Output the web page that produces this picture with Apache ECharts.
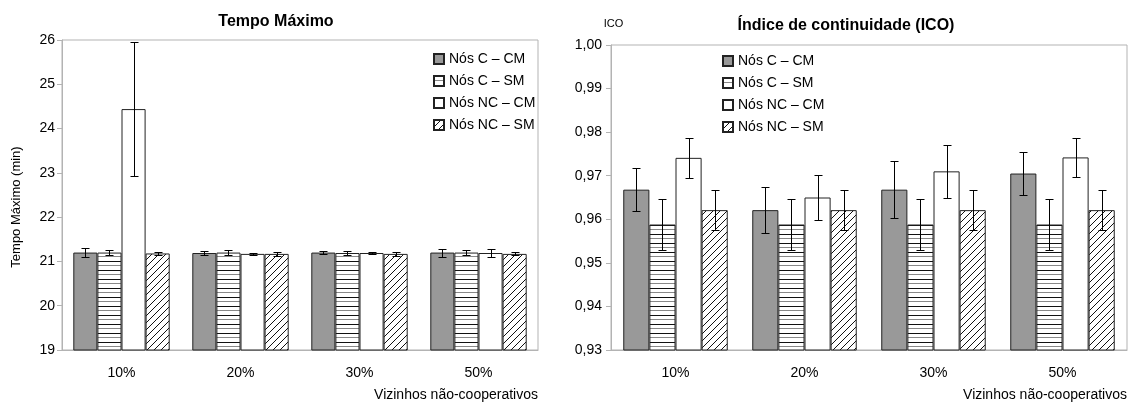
<!DOCTYPE html>
<html>
<head>
<meta charset="utf-8">
<script src="https://cdn.jsdelivr.net/npm/echarts@6/dist/echarts.min.js"></script>
<style>
  html, body { margin: 0; padding: 0; background: #fff; }
  #chart { width: 1133px; height: 403px; }
</style>
</head>
<body>
<div id="chart"></div>
<script>
// ---------------- DATA ----------------
const categories = ['10%', '20%', '30%', '50%'];
const seriesNames = ['Nós C – CM', 'Nós C – SM', 'Nós NC – CM', 'Nós NC – SM'];

// Tempo Máximo (min)
const tempoCCM  = [21.20, 21.19, 21.20, 21.20];
const tempoCSM  = [21.20, 21.20, 21.19, 21.20];
const tempoNCCM = [24.44, 21.17, 21.19, 21.19];
const tempoNCSM = [21.18, 21.17, 21.17, 21.17];
const tempoErrCCM  = [0.095, 0.04, 0.04, 0.09];
const tempoErrCSM  = [0.05, 0.05, 0.05, 0.05];
const tempoErrNCCM = [1.51, 0.03, 0.025, 0.08];
const tempoErrNCSM = [0.04, 0.04, 0.04, 0.035];

// Índice de continuidade (ICO)
const icoCCM  = [0.9668, 0.9621, 0.9668, 0.9705];
const icoCSM  = [0.9588, 0.9588, 0.9588, 0.9588];
const icoNCCM = [0.9741, 0.9650, 0.9710, 0.9742];
const icoNCSM = [0.9621, 0.9621, 0.9621, 0.9621];
const icoErrCCM  = [0.0050, 0.0052, 0.0066, 0.0050];
const icoErrCSM  = [0.0058, 0.0058, 0.0058, 0.0058];
const icoErrNCCM = [0.0046, 0.0052, 0.0060, 0.0045];
const icoErrNCSM = [0.0046, 0.0046, 0.0046, 0.0046];

const tempoTicks = { min: 19, max: 26, interval: 1 };
const icoTicks = { min: 0.93, max: 1.00, interval: 0.01 };

// ---------------- STYLES ----------------
const FONT = 'Liberation Sans, Arial, Helvetica, sans-serif';
const AXIS_GRAY = '#b3b3b3';

function stripePattern() {
  const c = document.createElement('canvas');
  c.width = 6; c.height = 9;
  const g = c.getContext('2d');
  g.fillStyle = '#fff'; g.fillRect(0, 0, 6, 9);
  g.fillStyle = '#111'; g.fillRect(0, 0, 6, 1);
  g.fillStyle = '#888'; g.fillRect(0, 4, 6, 1);
  return c;
}
function hatchPattern() {
  const s = 7;
  const c = document.createElement('canvas');
  c.width = s; c.height = s;
  const g = c.getContext('2d');
  g.fillStyle = '#fff'; g.fillRect(0, 0, s, s);
  g.strokeStyle = '#111'; g.lineWidth = 1;
  g.beginPath();
  g.moveTo(0, s); g.lineTo(s, 0);
  g.moveTo(-1, 1); g.lineTo(1, -1);
  g.moveTo(s - 1, s + 1); g.lineTo(s + 1, s - 1);
  g.stroke();
  return c;
}
const fills = [
  '#999999',
  { image: stripePattern(), repeat: 'repeat' },
  '#ffffff',
  { image: hatchPattern(), repeat: 'repeat' }
];

const CAT_GAP = 0.19;

function barSeries(name, idx, data, axisIdx) {
  return {
    name: name,
    type: 'bar',
    xAxisIndex: axisIdx, yAxisIndex: axisIdx,
    data: data,
    barGap: '0%',
    barCategoryGap: (CAT_GAP * 100) + '%',
    itemStyle: { color: fills[idx], borderColor: '#222', borderWidth: 1 },
    emphasis: { disabled: true },
    animation: false
  };
}

function errSeries(axisIdx, values, errs) {
  const data = [];
  values.forEach((arr, k) => {
    arr.forEach((v, i) => data.push([i, v, errs[k][i], k]));
  });
  return {
    type: 'custom',
    xAxisIndex: axisIdx, yAxisIndex: axisIdx,
    data: data,
    encode: { x: 0, y: 1 },
    z: 10,
    silent: true,
    animation: false,
    clip: false,
    renderItem: function (params, api) {
      const cat = api.value(0), v = api.value(1), e = api.value(2), k = api.value(3);
      const band = api.size([1, 0])[0];
      const bw = band * (1 - CAT_GAP) / 4;
      const c = api.coord([cat, v]);
      const x = Math.round(c[0] + (k - 1.5) * bw) + 0.5;
      const yt = Math.round(api.coord([cat, v + e])[1]) + 0.5;
      const yb = Math.round(api.coord([cat, v - e])[1]) + 0.5;
      const cw = 4;
      const st = { stroke: '#000', lineWidth: 1 };
      return {
        type: 'group',
        children: [
          { type: 'line', shape: { x1: x, y1: yt, x2: x, y2: yb }, style: st },
          { type: 'line', shape: { x1: x - cw, y1: yt, x2: x + cw, y2: yt }, style: st },
          { type: 'line', shape: { x1: x - cw, y1: yb, x2: x + cw, y2: yb }, style: st }
        ]
      };
    }
  };
}

const axisLabelStyle = { color: '#000', fontSize: 13, fontFamily: FONT };

const option = {
  backgroundColor: '#fff',
  animation: false,
  textStyle: { fontFamily: FONT },
  grid: [
    { left: 62, top: 40, width: 476, height: 310, show: true, borderColor: AXIS_GRAY, borderWidth: 1, backgroundColor: 'transparent' },
    { left: 611, top: 45, width: 516, height: 305, show: true, borderColor: AXIS_GRAY, borderWidth: 1, backgroundColor: 'transparent' }
  ],
  xAxis: [0, 1].map(i => ({
    type: 'category',
    gridIndex: i,
    data: categories,
    axisLine: { lineStyle: { color: AXIS_GRAY } },
    axisTick: { length: 7, lineStyle: { color: AXIS_GRAY } },
    axisLabel: Object.assign({ margin: 16 }, axisLabelStyle, { fontSize: 14 })
  })),
  yAxis: [
    {
      type: 'value', gridIndex: 0,
      min: tempoTicks.min, max: tempoTicks.max, interval: tempoTicks.interval,
      axisLine: { show: true, lineStyle: { color: AXIS_GRAY } },
      axisTick: { show: true, length: 5, lineStyle: { color: AXIS_GRAY } },
      splitLine: { show: false },
      axisLabel: Object.assign({ margin: 7 }, axisLabelStyle, { fontSize: 14 })
    },
    {
      type: 'value', gridIndex: 1,
      min: icoTicks.min, max: icoTicks.max, interval: icoTicks.interval,
      name: 'ICO', nameLocation: 'end', nameGap: 16,
      nameTextStyle: { color: '#000', fontSize: 11, fontFamily: FONT, padding: [0, 0, 0, 5] },
      axisLine: { show: true, lineStyle: { color: AXIS_GRAY } },
      axisTick: { show: true, length: 5, lineStyle: { color: AXIS_GRAY } },
      splitLine: { show: false },
      axisLabel: Object.assign({
        margin: 9,
        formatter: v => v.toFixed(2).replace('.', ',')
      }, axisLabelStyle, { fontSize: 14 })
    }
  ],
  legend: [
    {
      data: seriesNames, orient: 'vertical', left: 428, top: 47,
      itemWidth: 10, itemHeight: 10, itemGap: 8, icon: 'rect',
      textStyle: { color: '#000', fontSize: 14, fontFamily: FONT },
      selectedMode: false
    },
    {
      data: seriesNames, orient: 'vertical', left: 717, top: 49,
      itemWidth: 10, itemHeight: 10, itemGap: 8, icon: 'rect',
      textStyle: { color: '#000', fontSize: 14, fontFamily: FONT },
      selectedMode: false
    }
  ],
  graphic: [
    { type: 'text', x: 276, y: 22, style: { text: 'Tempo Máximo', font: 'bold 16px ' + FONT, fill: '#000', align: 'center', verticalAlign: 'middle', textAlign: 'center', textVerticalAlign: 'middle' } },
    { type: 'text', x: 846, y: 26, style: { text: 'Índice de continuidade (ICO)', font: 'bold 16px ' + FONT, fill: '#000', align: 'center', verticalAlign: 'middle', textAlign: 'center', textVerticalAlign: 'middle' } },
    { type: 'text', x: 538, y: 395, style: { text: 'Vizinhos não-cooperativos', font: '14px ' + FONT, fill: '#000', align: 'right', verticalAlign: 'middle', textAlign: 'right', textVerticalAlign: 'middle' } },
    { type: 'text', x: 1127, y: 395, style: { text: 'Vizinhos não-cooperativos', font: '14px ' + FONT, fill: '#000', align: 'right', verticalAlign: 'middle', textAlign: 'right', textVerticalAlign: 'middle' } },
    { type: 'text', x: 16, y: 207, rotation: Math.PI / 2, style: { text: 'Tempo Máximo (min)', font: '13px ' + FONT, fill: '#000', align: 'center', verticalAlign: 'middle', textAlign: 'center', textVerticalAlign: 'middle' } }
  ],
  series: [
    barSeries(seriesNames[0], 0, tempoCCM, 0),
    barSeries(seriesNames[1], 1, tempoCSM, 0),
    barSeries(seriesNames[2], 2, tempoNCCM, 0),
    barSeries(seriesNames[3], 3, tempoNCSM, 0),
    errSeries(0, [tempoCCM, tempoCSM, tempoNCCM, tempoNCSM], [tempoErrCCM, tempoErrCSM, tempoErrNCCM, tempoErrNCSM]),
    barSeries(seriesNames[0], 0, icoCCM, 1),
    barSeries(seriesNames[1], 1, icoCSM, 1),
    barSeries(seriesNames[2], 2, icoNCCM, 1),
    barSeries(seriesNames[3], 3, icoNCSM, 1),
    errSeries(1, [icoCCM, icoCSM, icoNCCM, icoNCSM], [icoErrCCM, icoErrCSM, icoErrNCCM, icoErrNCSM])
  ]
};

const chart = echarts.init(document.getElementById('chart'), null, { renderer: 'canvas' });
chart.setOption(option);
</script>
</body>
</html>
